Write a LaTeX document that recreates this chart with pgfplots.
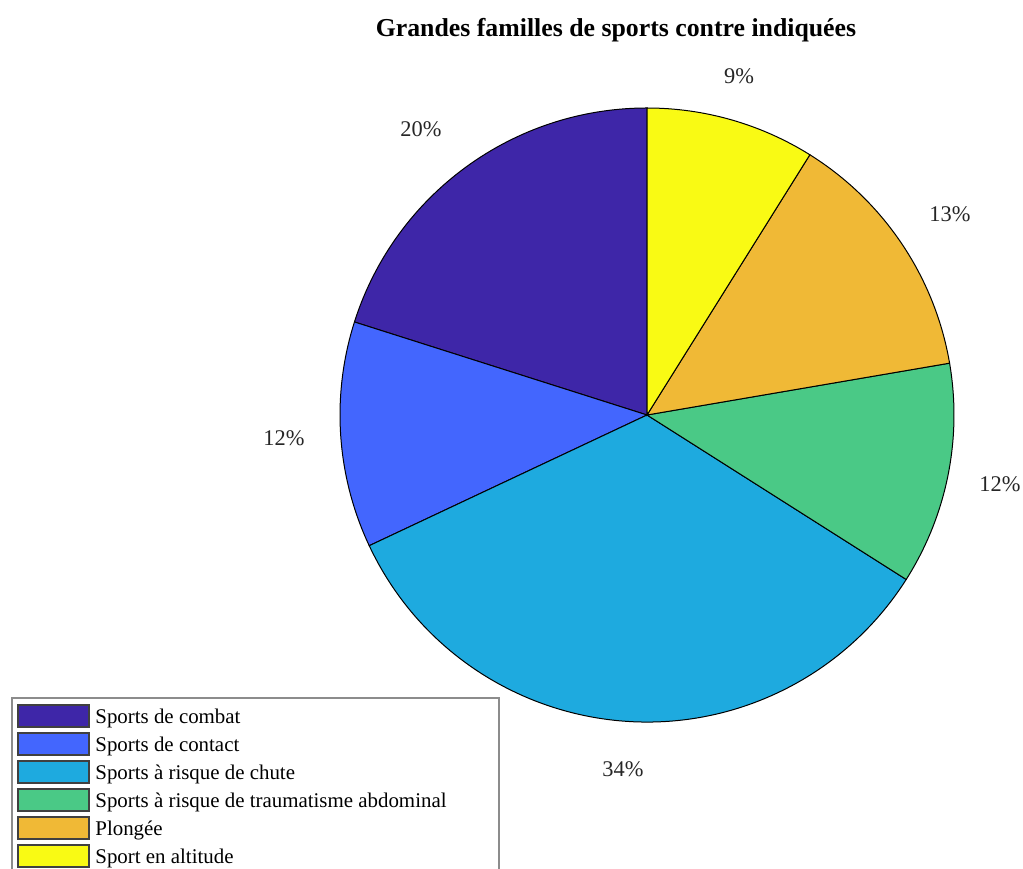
\documentclass[border=0pt]{standalone}
\usepackage{fontspec}
\setmainfont{Liberation Serif}
\usepackage{pgfplots}
\usepackage{pgfplotstable}
\pgfplotsset{compat=1.18}

% parula-like slice colours
\definecolor{c0}{RGB}{62,38,168}
\definecolor{c1}{RGB}{67,102,254}
\definecolor{c2}{RGB}{30,170,223}
\definecolor{c3}{RGB}{74,201,134}
\definecolor{c4}{RGB}{240,185,54}
\definecolor{c5}{RGB}{249,250,20}

% share in percent, label position in pixels of the reference
\pgfplotstableread[col sep=comma]{
name,value,lx,ly
Sports de combat,20.1,421,137
Sports de contact,11.9,284,446
Sports à risque de chute,34.0,623,777
Sports à risque de traumatisme abdominal,11.7,1000,492
Plongée,13.4,950,222
Sport en altitude,8.9,739,84
}\piedata

\newcommand\labfont{\fontsize{11.2}{13}\selectfont}
\newcommand\legfont{\fontsize{10.45}{12}\selectfont}

\begin{document}
\begin{tikzpicture}
\useasboundingbox (0,0) rectangle (511.5pt,434pt);
\begin{axis}[
  at={(0,0)}, anchor=south west,
  width=511.5pt, height=434pt, scale only axis,
  xmin=0, xmax=1023, ymin=0, ymax=868,
  hide axis, clip=false,
]
  % title
  \node[anchor=base, font=\bfseries\fontsize{12.9}{15}\selectfont]
    at (axis cs:616,831) {Grandes familles de sports contre indiquées};

  % slices, counter-clockwise from the top
  \def\startangle{90}
  \pgfplotsforeachungrouped \i in {0,...,5}{%
    \pgfplotstablegetelem{\i}{value}\of\piedata
    \pgfmathsetmacro\endangle{\startangle+3.6*\pgfplotsretval}%
    \edef\temp{\noexpand\filldraw[fill=c\i, draw=black, line width=0.5pt]
      (axis cs:647,453) -- ++(\startangle:153.5pt)
      arc[start angle=\startangle, end angle=\endangle, radius=153.5pt] -- cycle;}%
    \temp
    \global\let\startangle\endangle
  }

  % percentage labels
  \pgfplotsforeachungrouped \i in {0,...,5}{%
    \pgfplotstablegetelem{\i}{value}\of\piedata
    \pgfmathtruncatemacro\pct{round(\pgfplotsretval)}%
    \pgfplotstablegetelem{\i}{lx}\of\piedata
    \let\lx\pgfplotsretval
    \pgfplotstablegetelem{\i}{ly}\of\piedata
    \pgfmathsetmacro\ly{868-\pgfplotsretval}%
    \edef\temp{\noexpand\node[anchor=base, font=\noexpand\labfont, text=black!85]
      at (axis cs:\lx,\ly) {\pct\noexpand\%};}%
    \temp
  }

  % legend, its frame runs past the bottom of the picture
  \draw[black!45, line width=0.7pt] (axis cs:12,-5) -- (axis cs:12,170)
    -- (axis cs:499,170) -- (axis cs:499,-5);
  \pgfplotsforeachungrouped \i in {0,...,5}{%
    \pgfplotstablegetelem{\i}{name}\of\piedata
    \let\nm\pgfplotsretval
    \pgfmathsetmacro\ya{868-705-28*\i}%
    \pgfmathsetmacro\yb{868-727-28*\i}%
    \pgfmathsetmacro\yt{868-724-28*\i}%
    \edef\temp{\noexpand\filldraw[fill=c\i, draw=black!75, line width=0.6pt]
      (axis cs:18,\ya) rectangle (axis cs:89,\yb);
      \noexpand\node[anchor=base west, inner sep=0pt, font=\noexpand\legfont]
      at (axis cs:95,\yt) {\nm};}%
    \temp
  }
\end{axis}
\end{tikzpicture}
\end{document}
